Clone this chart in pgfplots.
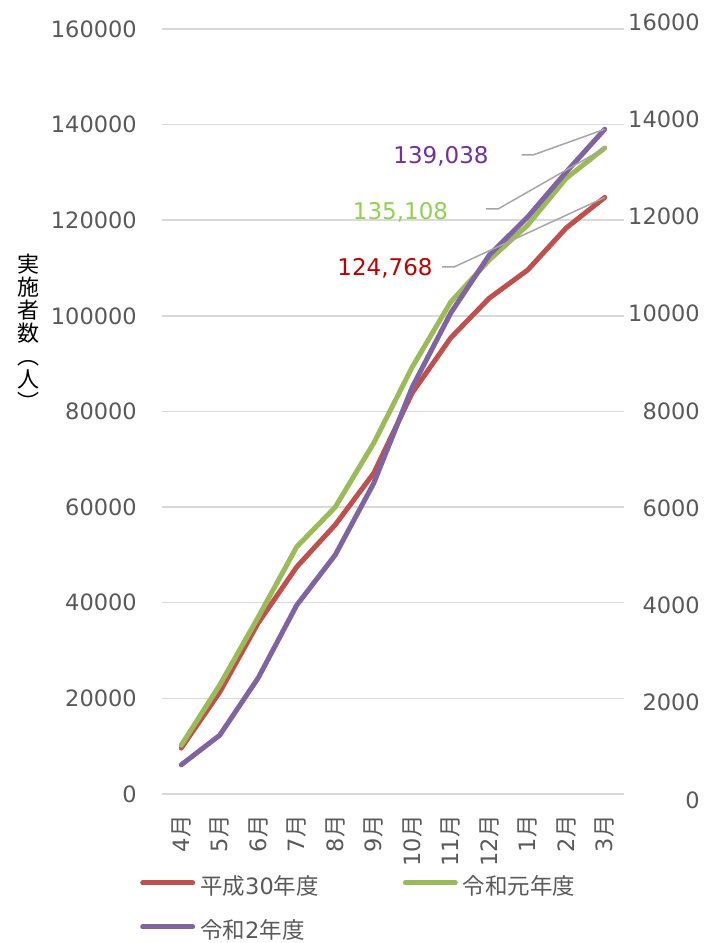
\documentclass[border=0pt]{standalone}
\usepackage{fontspec}
\setmainfont{DejaVu Sans}
\newfontfamily\jp{Noto Sans CJK JP}
\usepackage{pgfplots}
\pgfplotsset{compat=1.18}
\definecolor{cred}{HTML}{C0504D}
\definecolor{cgreen}{HTML}{9BBB59}
\definecolor{cpurple}{HTML}{8064A2}
\definecolor{tickgray}{HTML}{595959}
\definecolor{gridgray}{HTML}{D9D9D9}
\definecolor{leadgray}{HTML}{A6A6A6}
\definecolor{lblred}{HTML}{C00000}
\definecolor{lblgreen}{HTML}{92D050}
\definecolor{lblpurple}{HTML}{7030A0}
\begin{document}
\begin{tikzpicture}[x=1pt,y=1pt]
\useasboundingbox (0,0) rectangle (715,943);
\begin{axis}[
  at={(162pt,149pt)}, anchor=south west,
  width=462pt, height=765pt, scale only axis,
  xmin=-0.5, xmax=11.5, ymin=0, ymax=160000,
  xtick={0,...,11},
  xticklabels={4{\jp 月},5{\jp 月},6{\jp 月},7{\jp 月},8{\jp 月},9{\jp 月},10{\jp 月},11{\jp 月},12{\jp 月},1{\jp 月},2{\jp 月},3{\jp 月}},
  ytick={0,20000,...,160000},
  scaled y ticks=false,
  yticklabel={\pgfmathprintnumber[fixed,precision=0,1000 sep={},assume math mode=true]{\tick}},
  axis line style={draw=none},
  major tick length=0pt,
  ymajorgrids,
  major grid style={gridgray, line width=1.5pt},
  tick label style={font=\fontsize{22.5}{27}\selectfont, text=tickgray},
  yticklabel style={inner sep=0pt},
  yticklabel shift=25pt,
  xticklabel style={rotate=90, anchor=east, inner sep=0pt},
  xticklabel shift=21pt,
  clip=false,
  legend columns=2,
  legend cell align=left,
  legend style={at={(axis description cs:-0.0476,-0.1095)}, anchor=north west,
    draw=none, fill=none, inner sep=0pt,
    font=\fontsize{22.5}{26}\selectfont, text=tickgray,
    nodes={inner sep=0pt, text height=17pt, text depth=5pt},
    row sep=22pt,
    /tikz/every odd column/.append style={column sep=5pt},
    /tikz/every even column/.append style={column sep=84pt}},
  legend image code/.code={\draw[#1, line cap=round] (2.5pt,6pt) -- (52.5pt,6pt);},
  every axis plot/.append style={line width=5pt, line join=round, line cap=round},
]
\addplot[cred] coordinates {(0,9600) (1,21300) (2,35800) (3,47500) (4,56300) (5,67100) (6,83900) (7,95400) (8,103700) (9,109600) (10,118400) (11,124768)};
\addlegendentry{{\jp 平成}30{\jp 年度}}
\addplot[cgreen] coordinates {(0,10200) (1,22800) (2,37000) (3,51700) (4,60000) (5,73400) (6,89300) (7,102900) (8,111700) (9,119000) (10,128800) (11,135108)};
\addlegendentry{{\jp 令和元年度}}
\addplot[cpurple] coordinates {(0,6100) (1,12300) (2,24300) (3,39500) (4,50000) (5,65000) (6,85100) (7,100600) (8,112700) (9,120700) (10,130100) (11,139038)};
\addlegendentry{{\jp 令和}2{\jp 年度}}
% leader lines and data labels
\draw[leadgray, line width=1.5pt] (axis cs:8.844,133647) -- (axis cs:9.136,133647) -- (axis cs:11,139038);
\draw[leadgray, line width=1.5pt] (axis cs:7.916,122353) -- (axis cs:8.227,122353) -- (axis cs:11,135108);
\draw[leadgray, line width=1.5pt] (axis cs:6.773,110222) -- (axis cs:7.084,110222) -- (axis cs:11,124768);
\node[text=lblpurple, font=\fontsize{23}{27}\selectfont, inner sep=0pt] at (axis cs:6.747,133437) {139,038};
\node[text=lblgreen, font=\fontsize{23}{27}\selectfont, inner sep=0pt] at (axis cs:5.695,121725) {135,108};
\node[text=lblred, font=\fontsize{23}{27}\selectfont, inner sep=0pt] at (axis cs:5.292,110013) {124,768};
\end{axis}
\begin{axis}[
  at={(162pt,143pt)}, anchor=south west,
  width=462pt, height=778pt, scale only axis,
  xmin=-0.5, xmax=11.5, ymin=0, ymax=16000,
  axis x line=none,
  axis y line*=right,
  axis line style={draw=none},
  ytick={0,2000,...,16000},
  scaled y ticks=false,
  yticklabel={\pgfmathprintnumber[fixed,precision=0,1000 sep={},assume math mode=true]{\tick}},
  major tick length=0pt,
  tick label style={font=\fontsize{22.5}{27}\selectfont, text=tickgray},
  yticklabel style={anchor=east, inner sep=0pt},
  yticklabel shift=76pt,
]
\addplot[draw=none] coordinates {(0,0)};
\end{axis}
\node[font=\jp\fontsize{22}{23}\selectfont, align=center, inner sep=0pt] at (28,611) {実\\施\\者\\数\\︵\\人\\︶};
\end{tikzpicture}
\end{document}
